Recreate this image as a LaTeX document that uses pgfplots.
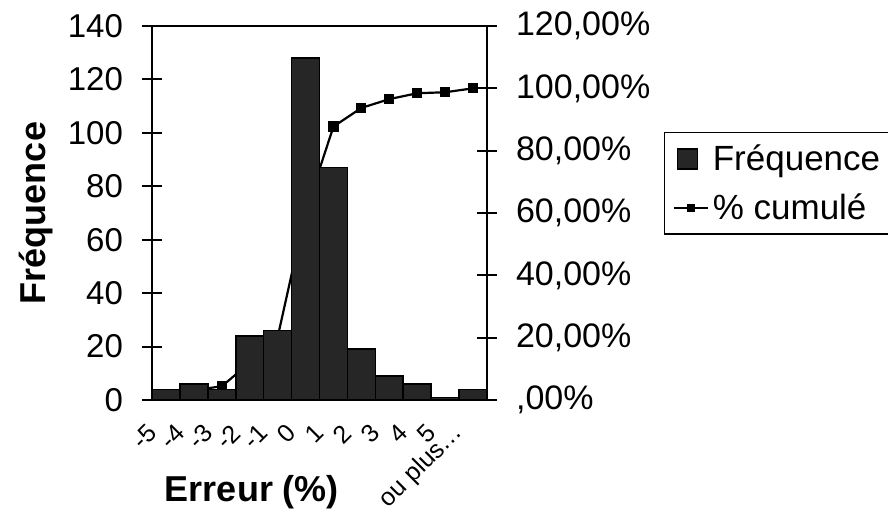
\documentclass[border=0pt]{standalone}
\usepackage{pgfplots}
\pgfplotsset{compat=1.18}
\usepackage{fontspec}
\setmainfont{Liberation Sans}

% counts per error class and cumulative share (%)
\pgfplotstableread{
x  freq  cum
1  4     1.26
2  6     3.14
3  4     4.40
4  24    11.95
5  26    20.13
6  128   60.38
7  87    87.74
8  19    93.71
9  9     96.54
10 6     98.43
11 1     98.74
12 4     100
}\histo

\begin{document}
\begin{tikzpicture}
\useasboundingbox (0,0) rectangle (444pt,254.5pt);

% cumulative line, drawn first so the bars cover it
\begin{axis}[
    at={(76pt,54.5pt)}, anchor=south west,
    width=167.5pt, height=187pt, scale only axis,
    xmin=0.5, xmax=12.5,
    ymin=0, ymax=120,
    axis x line=none,
    axis y line*=right,
    axis line style={line width=1pt, -},
    ytick={0,20,40,60,80,100,120},
    yticklabels={{,00\%},{20,00\%},{40,00\%},{60,00\%},{80,00\%},{100,00\%},{120,00\%}},
    tick align=center,
    major tick length=10pt,
    tick style={line width=1pt, black},
    y tick label style={font=\fontsize{17}{20}\selectfont, xshift=6pt},
]
\addplot[black, line width=1.1pt, mark=square*, mark size=2pt] table[x=x, y=cum] {\histo};
\end{axis}

% histogram
\begin{axis}[
    at={(76pt,54.5pt)}, anchor=south west,
    width=167.5pt, height=187pt, scale only axis,
    xmin=0.5, xmax=12.5,
    ymin=0, ymax=140,
    axis line style={line width=1pt},
    ytick={0,20,40,60,80,100,120,140},
    ytick pos=left,
    xtick pos=bottom,
    xtick={1,2,3,4,5,6,7,8,9,10,11,12},
    xticklabels={-5,-4,-3,-2,-1,0,1,2,3,4,5,{ou plus\ldots}},
    minor xtick={0.5,1.5,2.5,3.5,4.5,5.5,6.5,7.5,8.5,9.5,10.5,11.5,12.5},
    xtick style={draw=none},
    minor x tick style={line width=1pt, black, yshift=-4pt},
    minor tick length=8pt,
    tick align=center,
    major tick length=10pt,
    y tick style={line width=1pt, black},
    /pgf/number format/assume math mode=true,
    y tick label style={font=\fontsize{16.5}{19}\selectfont, xshift=-6pt},
    x tick label style={font=\fontsize{12.5}{14}\selectfont, xshift=-4.5pt, yshift=-7pt, rotate=45, anchor=east},
    xlabel={Erreur (\%)},
    ylabel={Fréquence},
    label style={font=\bfseries\fontsize{18}{21}\selectfont},
    xlabel style={at={(axis description cs:0.2985,0)}, anchor=north, yshift=-34pt},
    ylabel style={at={(axis description cs:0,0.5)}, anchor=center, yshift=58pt},
    legend style={at={(1.528,0.717)}, anchor=north west, draw=black, line width=0.8pt,
        font=\fontsize{17.5}{20}\selectfont, row sep=6pt, inner sep=4pt,
        legend cell align=left},
]
\addplot[ybar, bar width=1, fill=black!85, draw=black, line width=0.8pt,
    legend image code/.code={\draw[fill=black!85, draw=black, line width=0.6pt] (2pt,-5pt) rectangle (12pt,5pt);}]
    table[x=x, y=freq] {\histo};
\addlegendentry{Fréquence}
\addlegendimage{black, line width=1pt, mark=square*, mark size=1.5pt}
\addlegendentry{\% cumulé}
\end{axis}
\end{tikzpicture}
\end{document}
